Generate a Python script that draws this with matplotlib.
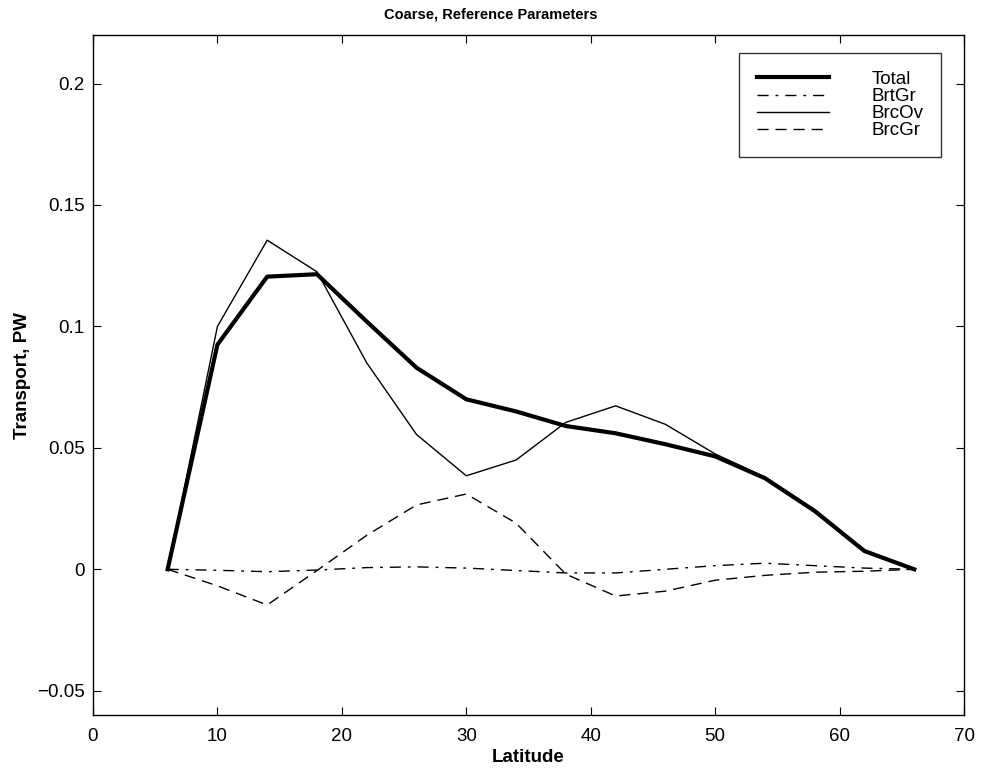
import matplotlib
matplotlib.use("Agg")
import matplotlib.pyplot as plt

plt.rcParams['font.family'] = ['Liberation Sans', 'DejaVu Sans']

latitude = [6, 10, 14, 18, 22, 26, 30, 34, 38, 42, 46, 50, 54, 58, 62, 66]
total = [0.0, 0.0925, 0.1205, 0.1215, 0.102, 0.083, 0.070, 0.065, 0.0590, 0.0560, 0.0515, 0.0465, 0.0375, 0.0240, 0.0075, 0.0]
brtgr = [0.0, -0.0004, -0.0010, -0.0003, 0.0007, 0.0010, 0.0005, -0.0005, -0.0015, -0.0015, 0.0000, 0.0015, 0.0025, 0.0015, 0.0005, 0.0]
brcov = [0.0, 0.100, 0.1355, 0.1225, 0.085, 0.0555, 0.0385, 0.045, 0.0605, 0.0673, 0.0597, 0.0475, 0.0380, 0.0245, 0.0080, 0.0]
brcgr = [0.0, -0.0068, -0.0147, -0.0005, 0.0140, 0.0265, 0.0310, 0.0190, -0.0020, -0.0110, -0.0090, -0.0045, -0.0025, -0.0012, -0.0008, 0.0]

xticks = [0, 10, 20, 30, 40, 50, 60, 70]
yticks = [-0.05, 0, 0.05, 0.1, 0.15, 0.2]
yticklabels = ['\u22120.05', '0', '0.05', '0.1', '0.15', '0.2']

fig = plt.figure(figsize=(9.82, 7.69), dpi=100)
ax = fig.add_axes([0.0947, 0.0702, 0.8870, 0.8843])

ax.plot(latitude, total, color='black', lw=3.0, label='Total')
ax.plot(latitude, brtgr, color='black', lw=1.0, dashes=(8, 5, 2, 5), label='BrtGr')
ax.plot(latitude, brcov, color='black', lw=1.0, label='BrcOv')
ax.plot(latitude, brcgr, color='black', lw=1.0, dashes=(8, 5), label='BrcGr')

ax.set_xlim(0, 70)
ax.set_ylim(-0.06, 0.22)
ax.set_xticks(xticks)
ax.set_yticks(yticks)
ax.set_yticklabels(yticklabels)
ax.tick_params(direction='in', top=True, right=True, length=6, labelsize=13.5)
ax.tick_params(axis='x', pad=9)
ax.tick_params(axis='y', pad=6)
for s in ax.spines.values():
    s.set_linewidth(1.0)

ax.set_xlabel('Latitude', fontsize=13.5, fontweight='bold', labelpad=3)
ax.set_ylabel('Transport, PW', fontsize=13.5, fontweight='bold', labelpad=4)
fig.text(491 / 982, 1 - 14.5 / 769, 'Coarse, Reference Parameters', fontsize=10.5,
         fontweight='bold', ha='center', va='center')

leg = ax.legend(loc='upper right', fontsize=13.5, frameon=True, fancybox=False,
                edgecolor='black', handlelength=3.84, handletextpad=2.24,
                labelspacing=0.0, borderpad=0.95, borderaxespad=0,
                bbox_to_anchor=(0.9736, 0.9735))
leg.get_frame().set_linewidth(1.0)

fig.savefig('out.png', dpi=100)
